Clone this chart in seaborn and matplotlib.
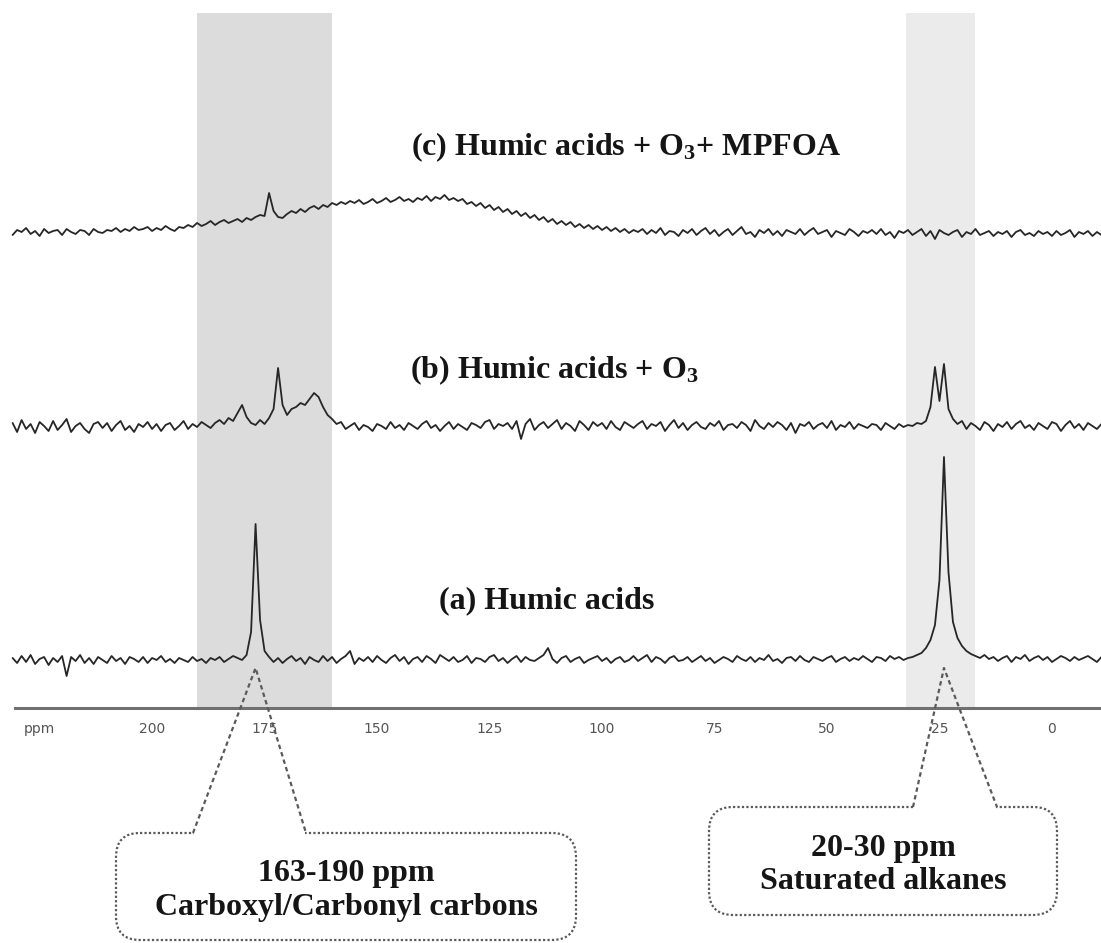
import numpy as np
import pandas as pd
import matplotlib
matplotlib.use("Agg")
import matplotlib.pyplot as plt
import seaborn as sns
from matplotlib.patches import FancyBboxPatch

# 13C NMR traces, chemical shift grid in ppm (1 ppm spacing, 231 -> -11)
shift_ppm = np.arange(231, -12, -1)

# (a) humic acids, intensity above the trace baseline
humic = [
    2, -3, 4, -2, 5, -4, 1, 3, -5, 2,
    -2, 4, -16, 3, -1, 5, -3, 2, -4, 3,
    0, -3, 4, -1, 2, -4, 3, 1, -2, 3,
    -3, 2, 0, 4, -2, 1, -3, 2, 0, -2,
    3, -1, 1, -3, 2, 0, 3, -2, 1, 4,
    2, 0, 5, 28, 136, 40, 9, 3, -2, 2,
    -3, 1, 4, -1, 2, -4, 3, 0, -2, 4,
    -1, 3, -3, 1, 4, 9, -4, 2, -1, 3,
    -2, 4, 0, -3, 2, 5, -1, 3, -4, 1,
    3, -2, 4, 1, -3, 5, 2, -1, 3, -2,
    0, 4, -3, 2, 1, -2, 3, 5, -1, 2,
    -3, 1, 4, -2, 3, 0, -1, 2, 5, 12,
    1, -3, 2, 4, -2, 1, 3, -3, 0, 2,
    4, -1, 2, -3, 1, 3, -2, 0, 4, -1,
    2, 5, -2, 3, 1, -3, 2, 4, -1, 0,
    3, -2, 1, 4, -1, 2, -3, 0, 3, 1,
    -2, 4, 1, -1, 3, -2, 2, 0, 5, -1,
    1, -3, 2, 3, -1, 4, 0, -2, 3, 1,
    -1, 2, 4, -2, 1, 3, -1, 2, 0, 4,
    1, -2, 3, 2, -1, 4, 1, 3, 0, 2,
    3, 5, 7, 12, 20, 35, 80, 203, 88, 38,
    22, 14, 9, 6, 4, 2, 5, 1, 3, -1,
    2, 4, -2, 3, 1, 5, -1, 2, 4, 0,
    3, -2, 1, 4, 2, -1, 3, 0, 2, 4,
    1, -2, 3,
]

# (b) humic acids + O3
humic_o3 = [
    4, -5, 7, -2, 3, -6, 5, 1, -4, 6,
    -3, 2, 8, -5, 1, 4, -2, -6, 3, 5,
    -1, 4, -4, 2, 6, -3, 1, -5, 3, 0,
    5, -2, 3, -4, 2, 4, -3, 1, 6, -2,
    3, 0, 5, 2, -1, 4, 7, 3, 9, 6,
    14, 22, 10, 4, 2, 7, 3, 9, 18, 59,
    22, 12, 18, 20, 24, 22, 28, 34, 30, 20,
    12, 8, 3, 5, -2, 1, 4, -3, 2, 0,
    -4, 3, 1, -2, 5, -1, 2, -3, 4, 1,
    -2, 3, 6, -1, 2, -4, 1, 5, -2, 3,
    0, -3, 4, 2, -1, 5, 7, -2, 3, 1,
    4, -2, 6, -12, 3, 8, -3, 2, 5, -1,
    3, 7, -2, 4, 1, -4, 6, 2, -3, 5,
    1, 4, -2, 6, 0, -3, 5, 2, -1, 3,
    6, -2, 3, 1, 5, -4, 2, 7, -1, 4,
    -3, 2, 5, 0, -2, 4, 1, 6, -3, 2,
    3, -1, 5, 2, -4, 7, 1, -2, 4, 0,
    5, 2, -3, 4, -6, 3, 1, 5, -2, 2,
    4, -1, 6, -3, 2, 0, 5, -2, 3, 1,
    -1, 3, 2, -3, 4, 1, -2, 3, 0, 2,
    1, 4, 3, 6, 20, 60, 26, 63, 18, 8,
    3, 6, -2, 4, 1, -3, 5, 2, -4, 3,
    0, 5, -2, 3, 6, -1, 2, -3, 4, 1,
    -2, 5, 3, -4, 2, 6, -1, 3, -3, 4,
    1, -2, 3,
]

# (c) humic acids + O3 + MPFOA
humic_o3_mpfoa = [
    -2, 3, 1, 5, -1, 2, -3, 4, 0, 2,
    3, -2, 4, 1, -1, 3, 2, -2, 4, 1,
    0, 3, 2, 5, 1, 4, 2, 6, 3, 4,
    6, 2, 5, 3, 7, 4, 2, 6, 5, 8,
    6, 10, 7, 9, 12, 8, 11, 13, 10, 12,
    14, 11, 15, 13, 16, 18, 17, 40, 22, 16,
    15, 19, 22, 20, 24, 21, 25, 27, 24, 28,
    26, 30, 28, 31, 29, 32, 30, 33, 29, 31,
    34, 30, 32, 35, 31, 33, 36, 32, 34, 31,
    35, 33, 37, 32, 36, 34, 38, 33, 35, 32,
    34, 29, 31, 27, 30, 25, 28, 23, 26, 21,
    24, 19, 22, 17, 20, 15, 18, 13, 16, 11,
    14, 9, 12, 8, 11, 6, 9, 5, 8, 4,
    7, 3, 6, 2, 5, 1, 4, 0, 3, 1,
    4, -1, 3, 0, 5, -2, 2, 1, -3, 3,
    0, 4, -2, 2, 5, -1, 3, -3, 1, 4,
    -2, 2, 6, -1, 1, -4, 3, 0, 4, -2,
    2, -3, 3, 1, -1, 4, -2, 2, 5, -1,
    1, 3, -4, 2, 0, -2, 4, 1, -3, 2,
    0, 3, -1, 4, -2, 1, -5, 2, 0, 3,
    -2, 1, 4, -3, 2, -6, 3, 0, -2, 1,
    3, -4, 1, -1, 4, -2, 0, 2, -3, 1,
    -1, 2, -4, 1, 3, -2, 0, -3, 2, -1,
    1, -3, 2, -2, 0, 3, -4, 1, -1, 2,
    -3, 1, -2,
]

sample_names = ["(a) Humic acids",
                r"(b) Humic acids + O$_3$",
                r"(c) Humic acids + O$_3$+ MPFOA"]

tick_values = [225, 200, 175, 150, 125, 100, 75, 50, 25, 0]
tick_labels = ["ppm", "200", "175", "150", "125", "100", "75", "50", "25", "0"]

carbonyl_band = (190, 160)
alkane_band = (32.5, 17)
carbonyl_peak_ppm = 177
alkane_peak_ppm = 24

callout_texts = ["163-190 ppm\nCarboxyl/Carbonyl carbons",
                 "20-30 ppm\nSaturated alkanes"]

# ---------------------------------------------------------------- styling
sns.set_theme(style="white")
plt.rcParams["font.family"] = ["Liberation Serif", "DejaVu Serif"]
plt.rcParams["mathtext.fontset"] = "custom"
plt.rcParams["mathtext.rm"] = "Liberation Serif:bold"
plt.rcParams["mathtext.it"] = "Liberation Serif:italic:bold"
plt.rcParams["mathtext.bf"] = "Liberation Serif:bold"

W, H = 1101, 943
fig = plt.figure(figsize=(W / 100, H / 100), dpi=100)
fig.patch.set_facecolor("white")

# spectrum panel: from y=13 px down to the ppm axis at y=708 px
ax_top, ax_bot = 13, 708
ax = fig.add_axes([0, 1 - ax_bot / H, 1, (ax_bot - ax_top) / H])
ax.set_xlim(233.8, -10.9)
ax.set_ylim(0, ax_bot - ax_top)

# stacking offsets of the three traces
baselines = [48, 281, 475]

ax.axvspan(*carbonyl_band, color="#dcdcdc", lw=0, zorder=0)
ax.axvspan(*alkane_band, color="#ebebeb", lw=0, zorder=0)

frames = []
for name, vals, base in zip(sample_names, [humic, humic_o3, humic_o3_mpfoa], baselines):
    frames.append(pd.DataFrame({"shift": shift_ppm,
                                "signal": np.asarray(vals, float) + base,
                                "sample": name}))
spectra = pd.concat(frames, ignore_index=True)
sns.lineplot(data=spectra, x="shift", y="signal", hue="sample",
             palette=["#262626"] * 3, legend=False, lw=1.3, ax=ax, zorder=3)

for side in ["top", "left", "right"]:
    ax.spines[side].set_visible(False)
ax.spines["bottom"].set_color("#707070")
ax.spines["bottom"].set_linewidth(2.2)
ax.spines["bottom"].set_bounds(230.5, -10.9)
ax.set_yticks([])
ax.set_xlabel("")
ax.set_ylabel("")
ax.set_xticks(tick_values, tick_labels)
ax.set_xticks(np.arange(230, -6, -5), minor=True)
ax.tick_params(axis="x", which="major", direction="out", length=6.5, width=1.3,
               color="#555555", labelsize=10, labelcolor="#555555", pad=3.5)
ax.tick_params(axis="x", which="minor", direction="out", length=3.5, width=1.1,
               color="#666666")
for lab in ax.get_xticklabels():
    lab.set_family("DejaVu Sans")

# ---------------------------------------------------------------- annotations (pixel overlay)
ov = fig.add_axes([0, 0, 1, 1], zorder=5)
ov.set_xlim(0, W)
ov.set_ylim(H, 0)
ov.axis("off")
ov.patch.set_alpha(0)

label_kw = dict(ha="left", va="center", fontsize=23, fontweight="bold",
                color="#151515", family="Liberation Serif")
ov.text(439, 601, sample_names[0], **label_kw)
ov.text(410, 370, sample_names[1], **label_kw)
ov.text(411, 147, sample_names[2], **label_kw)


def to_overlay(ppm, y):
    disp = ax.transData.transform((ppm, y))
    return ov.transData.inverted().transform(disp)


def callout(box, bases, apex, text):
    x0, y0, x1, y1 = box
    ov.add_patch(FancyBboxPatch((x0, y0), x1 - x0, y1 - y0,
                                boxstyle="round,pad=0,rounding_size=24",
                                fc="white", ec="#5a5a5a", lw=1.6,
                                ls=(0, (1, 1)), zorder=2))
    ov.plot([bases[0] + 1, bases[1] - 1], [y0, y0], color="white", lw=4,
            solid_capstyle="butt", zorder=3)
    ov.plot([bases[0], apex[0], bases[1]], [y0, apex[1], y0], color="#5a5a5a",
            lw=1.6, ls=(0, (2, 1.5)), zorder=4)
    ov.text((x0 + x1) / 2, (y0 + y1) / 2 + 4, text, ha="center", va="center",
            fontsize=23, fontweight="bold", color="#151515",
            family="Liberation Serif", linespacing=1.22, zorder=5)


apex_c = to_overlay(carbonyl_peak_ppm, 40)
apex_a = to_overlay(alkane_peak_ppm, 40)
callout((116, 833, 576, 940), (193, 306), apex_c, callout_texts[0])
callout((709, 807, 1057, 915), (913, 997), apex_a, callout_texts[1])

fig.savefig("out.png", dpi=100, facecolor="white")
